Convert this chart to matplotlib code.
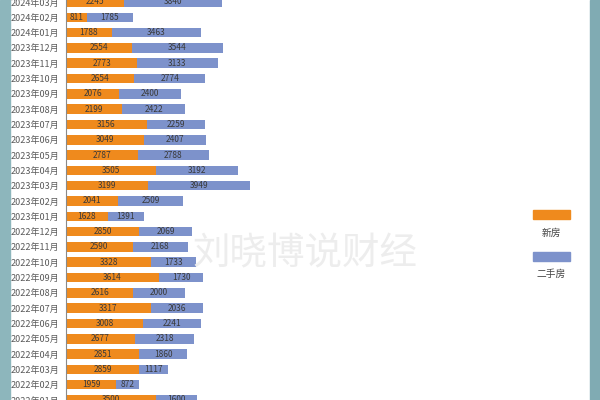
import matplotlib
matplotlib.use("Agg")
import matplotlib.pyplot as plt
from matplotlib.patches import Rectangle
import numpy as np

plt.rcParams['font.family'] = ['Noto Sans CJK SC', 'DejaVu Sans']

months = ["2024年03月", "2024年02月", "2024年01月", "2023年12月", "2023年11月", "2023年10月",
          "2023年09月", "2023年08月", "2023年07月", "2023年06月", "2023年05月", "2023年04月",
          "2023年03月", "2023年02月", "2023年01月", "2022年12月", "2022年11月", "2022年10月",
          "2022年09月", "2022年08月", "2022年07月", "2022年06月", "2022年05月", "2022年04月",
          "2022年03月", "2022年02月", "2022年01月"]
new_home = [2245, 811, 1788, 2554, 2773, 2654, 2076, 2199, 3156, 3049, 2787, 3505,
            3199, 2041, 1628, 2850, 2590, 3328, 3614, 2616, 3317, 3008, 2677, 2851,
            2859, 1959, 3500]
second_home = [3840, 1785, 3463, 3544, 3133, 2774, 2400, 2422, 2259, 2407, 2788, 3192,
               3949, 2509, 1391, 2069, 2168, 1733, 1730, 2000, 2036, 2241, 2318, 1860,
               1117, 872, 1600]
series_names = ["新房", "二手房"]

c_new = "#EF8A1D"
c_sec = "#7D92CB"

fig = plt.figure(figsize=(6, 4), dpi=100)
fig.patch.set_facecolor("white")

# teal side borders
fig.add_artist(Rectangle((0, 0), 10/600, 1, transform=fig.transFigure, color="#8DB6BC", zorder=0))
fig.add_artist(Rectangle((590/600, 0), 10/600, 1, transform=fig.transFigure, color="#80ABB3", zorder=0))

ax = fig.add_axes([66/600, 0, 524/600, 1])
ax.set_facecolor("none")
y = np.arange(len(months))
h = 0.62
ax.barh(y, new_home, height=h, color=c_new, zorder=2)
ax.barh(y, second_home, left=new_home, height=h, color=c_sec, zorder=2)

for yi, a, b in zip(y, new_home, second_home):
    ax.text(a/2, yi, str(a), ha="center", va="center", fontsize=6, color="#3a3a3a", zorder=3)
    ax.text(a + b/2, yi, str(b), ha="center", va="center", fontsize=6, color="#3a3a3a", zorder=3)

ax.set_xlim(0, 20400)
ax.set_ylim(25.84, -0.13)
ax.set_yticks(y)
ax.set_yticklabels(months, fontsize=6.5, color="#5a5a5a")
ax.tick_params(axis="y", length=0, pad=5)
ax.set_xticks([])
for s in ["top", "right", "bottom"]:
    ax.spines[s].set_visible(False)
ax.spines["left"].set_color("#8a8a8a")
ax.spines["left"].set_linewidth(0.8)

# watermark
fig.text(305/600, 1 - 254/400, "刘晓博说财经", fontsize=27, color="#ededed",
         ha="center", va="center", zorder=1)

# legend
fig.add_artist(Rectangle((533/600, 1 - 219/400), 37/600, 9/400, transform=fig.transFigure,
                         color=c_new, zorder=3))
fig.text(551/600, 1 - 233/400, series_names[0], fontsize=7, color="#444444", ha="center", va="center")
fig.add_artist(Rectangle((533/600, 1 - 261/400), 37/600, 9/400, transform=fig.transFigure,
                         color=c_sec, zorder=3))
fig.text(551/600, 1 - 274/400, series_names[1], fontsize=7, color="#444444", ha="center", va="center")

fig.savefig("out.png", dpi=100)
